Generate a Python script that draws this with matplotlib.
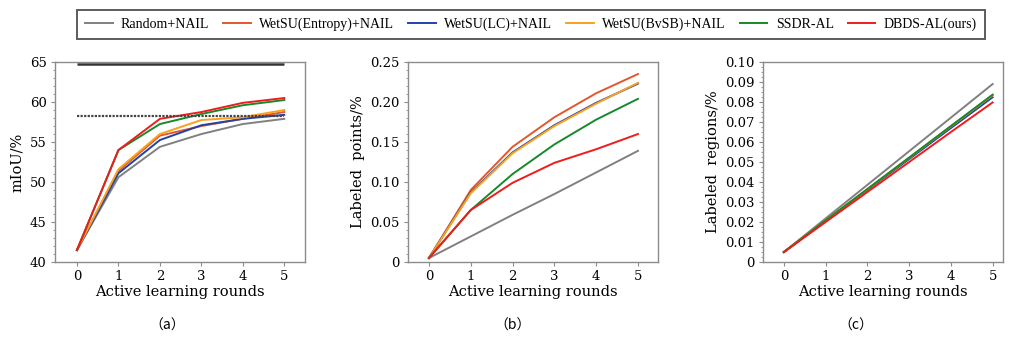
import matplotlib
matplotlib.use('Agg')
import matplotlib.pyplot as plt
from matplotlib.ticker import AutoMinorLocator, MultipleLocator, FuncFormatter

rounds = [0, 1, 2, 3, 4, 5]
methods = ['Random+NAIL', 'WetSU(Entropy)+NAIL', 'WetSU(LC)+NAIL',
           'WetSU(BvSB)+NAIL', 'SSDR-AL', 'DBDS-AL(ours)']
colors = ['#808080', '#e2572c', '#2342a6', '#f8a11f', '#168a2a', '#f01c1c']

miou = {
    'Random+NAIL':         [41.5, 50.6, 54.4, 56.0, 57.25, 57.9],
    'WetSU(Entropy)+NAIL': [41.5, 51.4, 55.8, 57.0, 57.9, 58.75],
    'WetSU(LC)+NAIL':      [41.5, 51.1, 55.25, 57.1, 57.9, 58.4],
    'WetSU(BvSB)+NAIL':    [41.5, 51.6, 56.0, 57.75, 58.1, 59.0],
    'SSDR-AL':             [41.5, 54.0, 57.25, 58.5, 59.6, 60.25],
    'DBDS-AL(ours)':       [41.5, 54.0, 57.9, 58.75, 59.9, 60.5],
}
full_sup = 64.7
baseline = 58.3

points = {
    'Random+NAIL':         [0.005, 0.032, 0.059, 0.085, 0.112, 0.139],
    'WetSU(Entropy)+NAIL': [0.005, 0.090, 0.144, 0.181, 0.211, 0.235],
    'WetSU(LC)+NAIL':      [0.005, 0.087, 0.137, 0.171, 0.199, 0.223],
    'WetSU(BvSB)+NAIL':    [0.005, 0.086, 0.136, 0.170, 0.198, 0.224],
    'SSDR-AL':             [0.005, 0.065, 0.110, 0.147, 0.178, 0.204],
    'DBDS-AL(ours)':       [0.005, 0.065, 0.099, 0.124, 0.141, 0.160],
}

regions = {
    'Random+NAIL':         [0.005, 0.0218, 0.0386, 0.0554, 0.0722, 0.089],
    'WetSU(Entropy)+NAIL': [0.005, 0.0207, 0.0364, 0.0521, 0.0678, 0.0834],
    'WetSU(LC)+NAIL':      [0.005, 0.0205, 0.0360, 0.0515, 0.0670, 0.0824],
    'WetSU(BvSB)+NAIL':    [0.005, 0.0207, 0.0364, 0.0521, 0.0678, 0.0834],
    'SSDR-AL':             [0.005, 0.0208, 0.0365, 0.0522, 0.0680, 0.0837],
    'DBDS-AL(ours)':       [0.005, 0.0200, 0.0350, 0.0500, 0.0650, 0.0798],
}

plt.rcParams['font.family'] = ['DejaVu Serif']

fig = plt.figure(figsize=(10.13, 3.39), dpi=100)
ax_a = fig.add_axes([0.0543, 0.227, 0.2468, 0.590])
ax_b = fig.add_axes([0.4028, 0.227, 0.2468, 0.590])
ax_c = fig.add_axes([0.7532, 0.227, 0.2370, 0.590])


def frac_fmt(v, pos):
    return '0' if abs(v) < 1e-9 else '%.2f' % v


def style(ax, ylabel, ylim, ystep, xlim, nminor=5):
    for s in ax.spines.values():
        s.set_color('#8c8c8c')
        s.set_linewidth(1.0)
    ax.set_xlim(*xlim)
    ax.set_ylim(*ylim)
    ax.set_xticks(rounds)
    ax.yaxis.set_major_locator(MultipleLocator(ystep))
    ax.yaxis.set_minor_locator(AutoMinorLocator(nminor))
    ax.tick_params(axis='both', which='major', length=3, width=0.8,
                   color='#8c8c8c', labelsize=9.5, pad=3)
    ax.tick_params(axis='y', which='minor', length=1.5, width=0.6,
                   color='#8c8c8c')
    ax.set_xlabel('Active learning rounds', fontsize=10.5, labelpad=1)
    ax.set_ylabel(ylabel, fontsize=10.5, labelpad=4)


for m, c in zip(methods, colors):
    ax_a.plot(rounds, miou[m], color=c, lw=1.4, label=m)
ax_a.hlines(full_sup, rounds[0], rounds[-1], color='#333333', lw=1.8)
ax_a.hlines(baseline, rounds[0], rounds[-1], color='#444444', lw=1.6,
            linestyles=(0, (1, 0.6)))
style(ax_a, 'mIoU/%', (40, 65), 5, (-0.53, 5.5))

for m, c in zip(methods, colors):
    ax_b.plot(rounds, points[m], color=c, lw=1.4)
style(ax_b, 'Labeled  points/%', (0, 0.25), 0.05, (-0.5, 5.48))
ax_b.yaxis.set_major_formatter(FuncFormatter(frac_fmt))

for m, c in zip(methods, colors):
    ax_c.plot(rounds, regions[m], color=c, lw=1.4)
style(ax_c, 'Labeled  regions/%', (0, 0.10), 0.01, (-0.5, 5.25), nminor=4)
ax_c.yaxis.set_major_formatter(FuncFormatter(frac_fmt))

leg = fig.legend(*ax_a.get_legend_handles_labels(), loc='center',
                 bbox_to_anchor=(0.524, 0.928), ncol=6, frameon=True,
                 fancybox=False, handlelength=2.0, columnspacing=1.0,
                 handletextpad=0.6, borderpad=0.55,
                 prop={'family': 'Liberation Serif', 'size': 10})
leg.get_frame().set_edgecolor('#333333')
leg.get_frame().set_linewidth(1.4)

cjk = ['Noto Sans CJK SC', 'DejaVu Serif']
for x, t in [(0.165, '（a）'), (0.506, '（b）'), (0.845, '（c）')]:
    fig.text(x, 0.04, t, ha='center', va='center', fontsize=10, family=cjk)

fig.savefig('out.png', dpi=100)
